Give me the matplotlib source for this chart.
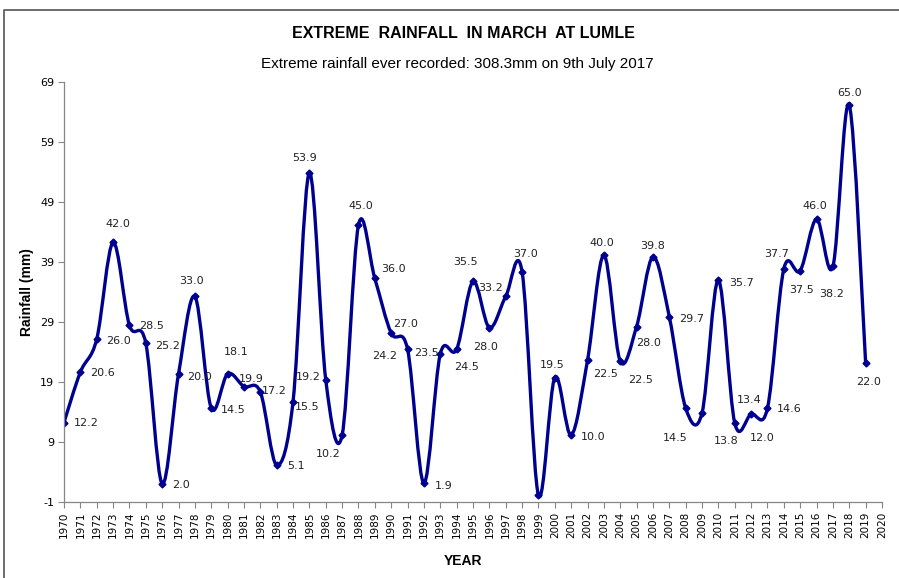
import numpy as np
import matplotlib
matplotlib.use("Agg")
import matplotlib.pyplot as plt
from matplotlib.path import Path
import matplotlib.patches as patches
from matplotlib.lines import Line2D

# data
years = list(range(1970, 2020))
rainfall = [12.2, 20.6, 26.1, 42.2, 28.4, 25.4, 2.0, 20.3, 33.2, 14.6,
            20.3, 18.2, 17.3, 5.1, 15.7, 53.8, 19.3, 10.1, 45.1, 36.2,
            27.1, 24.4, 2.1, 23.6, 24.4, 35.7, 28.0, 33.2, 37.3, 0.1,
            19.7, 10.1, 22.6, 40.1, 22.4, 28.2, 39.8, 29.8, 14.6, 13.8,
            35.9, 12.1, 13.6, 14.6, 37.8, 37.5, 46.1, 38.2, 65.1, 22.1]
labels = ["12.2", "20.6", "26.0", "42.0", "28.5", "25.2", "2.0", "20.0", "33.0", "14.5",
          "18.1", "19.9", "17.2", "5.1", "15.5", "53.9", "19.2", "10.2", "45.0", "36.0",
          "27.0", "24.2", "1.9", "23.5", "24.5", "35.5", "28.0", "33.2", "37.0", None,
          "19.5", "10.0", "22.5", "40.0", "22.5", "28.0", "39.8", "29.7", "14.5", "13.8",
          "35.7", "12.0", "13.4", "14.6", "37.7", "37.5", "46.0", "38.2", "65.0", "22.0"]
x_ticks = list(range(1970, 2021))
y_ticks = list(range(-1, 70, 10))

# label offsets from each point, in pixels (x right, y down as on screen)
label_off = [(22, 1), (22, 1), (22, 2), (5, -18), (22, 1), (22, 3), (19, 1), (21, 3), (-3, -15), (22, 2),
             (9, -22), (7, -8), (14, -1), (19, 1), (14, 5), (-5, -15), (-17, -3), (-14, 19), (2, -19), (19, -9),
             (14, -9), (-23, 7), (20, 3), (-14, -1), (10, 18), (-8, -19), (-4, 19), (-15, -8), (3, -18), (0, 0),
             (-3, -13), (22, 2), (18, 14), (-2, -12), (20, 19), (12, 17), (0, -11), (22, 2), (-10, 30), (24, 28),
             (23, 3), (27, 15), (-2, -14), (22, 1), (-7, -15), (1, 19), (-2, -13), (-1, 28), (0, -12), (3, 19)]

NAVY = "#000090"
GREY = "#868686"
ARIAL = ["Liberation Sans", "DejaVu Sans"]

W, H = 899, 578
fig = plt.figure(figsize=(W / 100, H / 100), dpi=100)
ax = fig.add_axes([64 / W, (H - 501.7) / H, (882 - 64) / W, (501.7 - 81.7) / H])

# smoothed line like Excel (Catmull-Rom style bezier)
x = np.array(years, dtype=float)
y = np.array(rainfall, dtype=float)
verts = [(x[0], y[0])]
codes = [Path.MOVETO]
n = len(x)
for i in range(n - 1):
    p0 = np.array([x[max(i - 1, 0)], y[max(i - 1, 0)]])
    p1 = np.array([x[i], y[i]])
    p2 = np.array([x[i + 1], y[i + 1]])
    p3 = np.array([x[min(i + 2, n - 1)], y[min(i + 2, n - 1)]])
    c1 = p1 + (p2 - p0) / 6
    c2 = p2 - (p3 - p1) / 6
    verts += [tuple(c1), tuple(c2), tuple(p2)]
    codes += [Path.CURVE4] * 3
ax.add_patch(patches.PathPatch(Path(verts, codes), facecolor="none",
                               edgecolor=NAVY, lw=2.4, capstyle="round", joinstyle="round"))
ax.plot(years, rainfall, ls="none", marker="D", ms=3.5, color=NAVY)

for yr, v, lab, off in zip(years, rainfall, labels, label_off):
    if lab is None:
        continue
    ax.annotate(lab, (yr, v), xytext=(off[0], -off[1]), textcoords="offset pixels",
                ha="center", va="center", fontsize=8, color="#222222",
                family="DejaVu Sans")

ax.set_xlim(1970, 2020)
ax.set_ylim(-1, 69)
ax.set_xticks(x_ticks)
ax.set_xticklabels([str(t) for t in x_ticks], rotation=90, fontsize=7.5, family="DejaVu Sans")
ax.set_yticks(y_ticks)
ax.set_yticklabels([str(t) for t in y_ticks], fontsize=8, family="DejaVu Sans")
ax.tick_params(axis="both", direction="out", length=4, color=GREY, width=0.8, pad=3)
for s in ["top", "right"]:
    ax.spines[s].set_visible(False)
for s in ["left", "bottom"]:
    ax.spines[s].set_color(GREY)
    ax.spines[s].set_linewidth(0.9)

fig.text(27 / W, 1 - 292 / H, "Rainfall (mm)", rotation=90, ha="center", va="center",
         fontsize=10, fontweight="bold", family=ARIAL)
fig.text(463 / W, 1 - 561 / H, "YEAR", ha="center", va="center", fontsize=10,
         fontweight="bold", family=ARIAL)
fig.text(463 / W, 1 - 33 / H, "EXTREME  RAINFALL  IN MARCH  AT LUMLE", ha="center", va="center",
         fontsize=11.5, fontweight="bold", family=ARIAL)
fig.text(457 / W, 1 - 64 / H, "Extreme rainfall ever recorded: 308.3mm on 9th July 2017",
         ha="center", va="center", fontsize=11, family=ARIAL)

# outer chart frame (only top and left are inside the picture)
fig.add_artist(Line2D([4 / W, 4 / W, 1.0], [0.0, 1 - 10 / H, 1 - 10 / H],
                      transform=fig.transFigure, color="#555555", lw=1.2))

fig.savefig("out.png", dpi=100)
